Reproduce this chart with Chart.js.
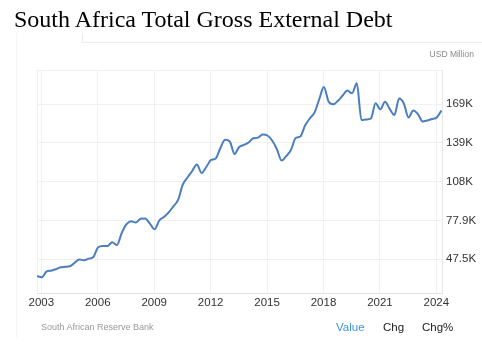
<!DOCTYPE html>
<html>
<head>
<meta charset="utf-8">
<script src="https://cdn.jsdelivr.net/npm/chart.js@4.4.1/dist/chart.umd.min.js"></script>
<style>
  html, body { margin: 0; padding: 0; background: #fff; }
  #wrap { position: relative; width: 482px; height: 351px; overflow: hidden; }
  #chart { position: absolute; left: 0; top: 0; }
  .txt { position: absolute; line-height: 1; white-space: nowrap; font-family: "Liberation Sans", Arial, sans-serif; }
  .rule { position: absolute; background: #f5f5f5; }
  #title { left: 14px; top: 7px; font-family: "Liberation Serif", "Times New Roman", serif; font-size: 24px; color: #000; }
  #unit { right: 8px; top: 50px; font-size: 8.5px; color: #8a8a8a; }
  #source { left: 41px; top: 323px; font-size: 9px; color: #999; }
  #value { left: 336px; top: 322px; font-size: 11.5px; color: #3a94df; }
  #chg { left: 383px; top: 322px; font-size: 11.5px; color: #222; }
  #chgp { left: 422px; top: 322px; font-size: 11.5px; color: #222; }
</style>
</head>
<body>
<div id="wrap">
  <div class="rule" style="left:16px; top:33px; width:1px; height:305px;"></div>
  <div class="rule" style="left:82px; top:33px; width:1px; height:10px; background:#ececec;"></div>
  <div class="rule" style="left:82px; top:42px; width:400px; height:1px; background:#ececec;"></div>
  <canvas id="chart" width="482" height="351"></canvas>
  <div class="txt" id="title">South Africa Total Gross External Debt</div>
  <div class="txt" id="unit">USD Million</div>
  <div class="txt" id="source">South African Reserve Bank</div>
  <div class="txt" id="value">Value</div>
  <div class="txt" id="chg">Chg</div>
  <div class="txt" id="chgp">Chg%</div>
</div>
<script>
  // Quarterly series, Q4 2002 .. Q2 2024 (USD million)
  const firstYear = 2002;
  const firstQuarter = 4;
  const debtValues = [
    34400, 33400, 37800, 38600, 39700, 41200, 41600, 42000, 44800, 47400,
    46700, 48000, 49300, 56900, 57900, 57900, 60800, 58700, 67900, 74800,
    77300, 76300, 79200, 79500, 75500, 71000, 77900, 80600, 84200, 89000,
    94000, 106100, 111600, 116700, 121800, 115100, 119800, 125300, 126500, 134700,
    141100, 139800, 130000, 135500, 137100, 139000, 142300, 142800, 145300, 144500,
    140600, 133900, 124900, 128400, 133100, 142500, 143700, 152300, 157800, 162400,
    172700, 182500, 171100, 168900, 171700, 175800, 179700, 177600, 185400, 156600,
    157000, 157800, 169700, 165000, 170900, 165300, 160600, 173500, 169600, 158600,
    164100, 161300, 155500, 156300, 157400, 158600, 164100
  ];
  const yearTicks = [2003, 2006, 2009, 2012, 2015, 2018, 2021, 2024];
  const valueTicks = [47500, 77900, 108300, 138700, 169100];

  const points = debtValues.map((v, i) => {
    const q = firstQuarter - 1 + i;
    const year = firstYear + Math.floor(q / 4);
    const x = year + (q % 4) * 0.25 + 0.02;
    return { x: x, y: v };
  });

  const xMin = 2002.77;
  const xMax = 2024.3;
  const yMin = 21100;
  const yMax = 195800;

  function formatK(v) {
    const k = v / 1000;
    return (k >= 100 ? k.toFixed(0) : k.toFixed(1)) + "K";
  }

  new Chart(document.getElementById("chart"), {
    type: "line",
    data: {
      datasets: [
        {
          data: points,
          borderColor: "#4a7ebe",
          borderWidth: 2,
          pointRadius: 0,
          fill: false,
          tension: 0.4,
          cubicInterpolationMode: "monotone",
        },
      ],
    },
    options: {
      responsive: false,
      animation: false,
      layout: { padding: { left: 37, top: 70, right: 0, bottom: 38 } },
      plugins: { legend: { display: false }, tooltip: { enabled: false } },
      scales: {
        x: {
          type: "linear",
          min: xMin,
          max: xMax,
          afterBuildTicks: (scale) => {
            scale.ticks = [{ value: xMin }].concat(yearTicks.map((v) => ({ value: v })));
          },
          afterFit: (scale) => { scale.height = 20; },
          grid: { color: "#f0f0f0", drawTicks: false },
          border: { color: "#e2e2e2" },
          ticks: {
            padding: 3,
            autoSkip: false,
            maxRotation: 0,
            color: "#333",
            font: { family: "'Liberation Sans', Arial, sans-serif", size: 11.5 },
            callback: (v) => (yearTicks.includes(v) ? String(v) : ""),
          },
        },
        y: {
          position: "right",
          min: yMin,
          max: yMax,
          afterBuildTicks: (scale) => {
            scale.ticks = valueTicks.map((v) => ({ value: v })).concat([{ value: yMax }]);
          },
          afterFit: (scale) => { scale.width = 40; },
          grid: { color: "#f0f0f0", drawTicks: false },
          border: { color: "#e8e8e8" },
          ticks: {
            padding: 4,
            color: "#333",
            font: { family: "'Liberation Sans', Arial, sans-serif", size: 11.5 },
            callback: (v) => (valueTicks.includes(v) ? formatK(v) : ""),
          },
        },
      },
    },
  });
</script>
</body>
</html>
